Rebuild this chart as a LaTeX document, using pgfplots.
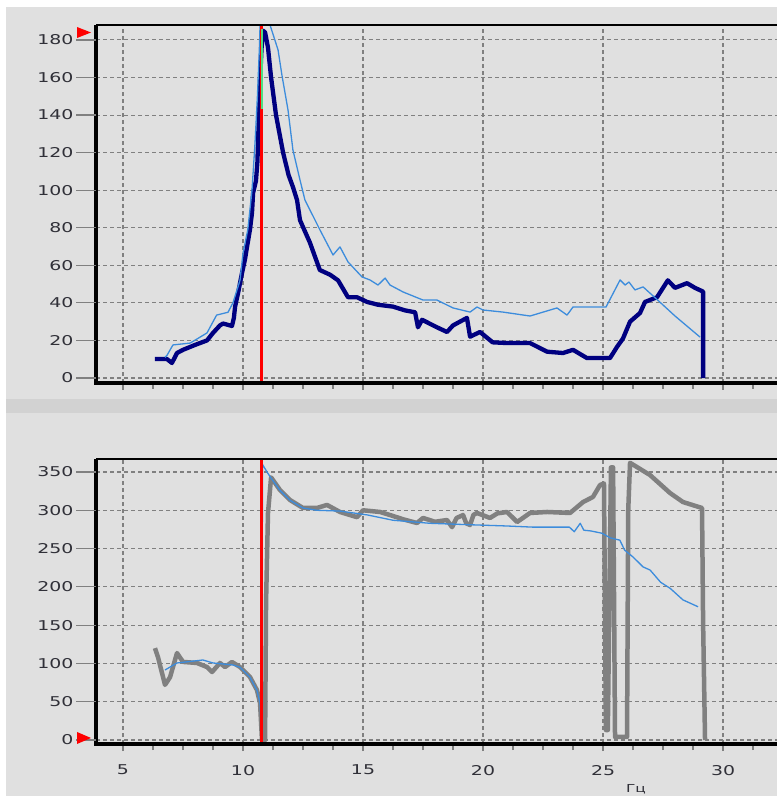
\documentclass[border=0pt]{standalone}
\usepackage{fontspec}
\setmainfont{DejaVu Sans}
\newfontfamily\tickfontfam[FakeStretch=1.4]{DejaVu Sans}
\newcommand\tickfont{\tickfontfam\fontsize{13.5}{16}\selectfont}
\newcommand\unitfont{\tickfontfam\fontsize{11}{13}\selectfont}
\usepackage{pgfplots}
\pgfplotsset{compat=1.18}
\definecolor{bg}{HTML}{E0E0E0}
\definecolor{band}{HTML}{D2D2D2}
\definecolor{gridgrey}{HTML}{808080}
\definecolor{tickgrey}{HTML}{808080}
\definecolor{navyline}{HTML}{000080}
\definecolor{thinblue}{HTML}{3C8CDC}
\definecolor{greyline}{HTML}{808080}
\definecolor{labelcol}{HTML}{303038}
\definecolor{greenmark}{HTML}{50E080}
\definecolor{olivemark}{HTML}{6B8E23}
\pgfplotsset{
  base/.style={
    scale only axis, width=694pt,
    xmin=3.875, xmax=32.79,
    axis line style={draw=none},
    xtick={5,10,...,30},
    minor xtick={6.25,7.5,...,32.5},
    grid=major,
    major grid style={gridgrey, line width=1.1pt, dash pattern=on 4pt off 3pt},
    tick align=outside, tick pos=left,
    major tick length=7pt, minor tick length=6pt,
    x tick style={tickgrey, line width=1.1pt},
    y tick style={draw=none},
    yticklabel style={font=\tickfont, text=labelcol, xshift=-12pt},
    xticklabel style={font=\tickfont, text=labelcol, yshift=-10.5pt},
    /pgf/number format/assume math mode=true,
    after end axis/.append code={
      \draw[black,line width=3.5pt] (rel axis cs:0,1) -- (rel axis cs:0,0) -- (rel axis cs:1,0);
      \draw[black,line width=1.6pt] (rel axis cs:0,1) -- (rel axis cs:1,1);
    },
  }
}
\begin{document}
\begin{tikzpicture}[x=1pt,y=1pt]
\useasboundingbox (0,0) rectangle (777,796);
\fill[bg] (0,0) rectangle (777,796);
\fill[white] (0,789) rectangle (777,796);
\fill[white] (0,0) rectangle (6,796);
\fill[band] (6,383) rectangle (777,397);

% ---------------- top plot ----------------
\begin{axis}[base,
  at={(96pt,413pt)}, anchor=south west, height=358pt,
  ymin=-2.66, ymax=187.96,
  ytick={0,20,...,180},
  xticklabel style={opacity=0},
  after end axis/.append code={
    \foreach \v in {0,20,...,180}{\draw[tickgrey,line width=1.2pt] (axis cs:3.875,\v) -- ++(-20pt,0);}
  },
]
\addplot[navyline, line width=4.3pt, line join=round] coordinates {
(6.33,10.1) (6.83,10.1) (7.04,8) (7.25,13.3) (7.5,15) (8.0,17.6) (8.5,20) (8.75,24)
(9.04,28) (9.17,29) (9.54,27.7) (9.62,32) (9.67,38) (9.79,45) (9.96,56) (10.08,63)
(10.17,70) (10.29,79) (10.375,88) (10.42,98.5) (10.54,105) (10.6,115) (10.65,135)
(10.7,155) (10.77,175) (10.83,185) (10.92,184) (11.04,176) (11.17,160) (11.375,140)
(11.67,120) (11.9,108) (12.08,101.7) (12.25,94.8) (12.375,84) (12.79,72)
(13.2,57.5) (13.625,55) (13.96,52) (14.375,43) (14.75,43) (15.17,40.5) (15.625,39)
(16.25,38) (16.75,36) (17.17,35) (17.29,27) (17.46,31) (18.08,27) (18.5,24.5)
(18.75,28) (19.33,32) (19.46,22) (19.875,24.5) (20.4,19) (21.0,18.6) (21.96,18.6)
(22.67,14) (23.33,13.3) (23.75,15) (24.33,10.6) (25.29,10.6) (25.58,16.5) (25.83,21)
(26.125,30) (26.54,34.6) (26.75,40.5) (27.25,43) (27.7,52) (28.0,48) (28.5,50.5)
(28.83,48) (29.17,46) (29.17,0)
};
\addplot[thinblue, line width=1.3pt, line join=round] coordinates {
(6.75,11) (6.83,12) (7.08,17.6) (7.8,18.6) (8.5,24) (8.9,33.5) (9.375,35) (9.58,40)
(9.875,52) (10.0,66.5) (10.2,79) (10.375,100) (10.5,125) (10.6,150) (10.68,175)
(10.72,192) (11.0,195) (11.125,188) (11.46,174.7) (11.625,161) (11.875,142.7)
(12.08,121.4) (12.375,105.4) (12.58,94.8) (13.2,79) (13.75,65.5) (14.04,69.8)
(14.375,61.8) (14.96,53.8) (15.29,52.2) (15.625,49.5) (15.92,53.2) (16.125,49.5)
(16.67,45.8) (17.5,41.5) (18.08,41.5) (18.75,37.3) (19.46,35.1) (19.75,37.8)
(20.0,36.2) (20.83,35.1) (21.96,33) (23.08,37.3) (23.5,33.5) (23.75,37.8) (25.125,37.8)
(25.71,52.2) (25.92,49.5) (26.08,51.1) (26.33,46.9) (26.67,48.5) (27.25,41.8)
(28.0,33) (29.04,21.8)
};
\addplot[red, line width=3pt] coordinates {(10.79,-5) (10.79,190)};
\addplot[greenmark, line width=2pt] coordinates {(10.78,143) (10.78,186)};
\end{axis}

% ---------------- bottom plot ----------------
\begin{axis}[base,
  at={(96pt,52pt)}, anchor=south west, height=285pt,
  ymin=-5.22, ymax=367.0,
  ytick={0,50,...,350},
  after end axis/.append code={
    \foreach \v in {0,50,...,350}{\draw[tickgrey,line width=1.2pt] (axis cs:3.875,\v) -- ++(-20pt,0);}
  },
]
\addplot[greyline, line width=4.5pt, line join=round] coordinates {
(6.33,120) (6.46,108) (6.75,72) (6.96,82) (7.25,113.6) (7.5,102) (8.08,100.6)
(8.5,95.3) (8.71,88.8) (9.04,100.6) (9.25,95.3) (9.54,101.9) (9.875,95.3) (10.29,82.3)
(10.58,65.3) (10.71,48.3) (10.79,0) (10.92,0) (10.96,179) (11.04,296) (11.17,343)
(11.54,326.5) (11.96,313.4) (12.5,303) (13.08,303) (13.5,307) (14.04,297.8) (14.75,291)
(15.0,300) (15.71,297.8) (16.125,293.8) (16.7,288) (17.25,283.4) (17.5,290) (18.0,285)
(18.5,287.3) (18.71,278) (18.9,290) (19.17,293.8) (19.3,283) (19.46,280.8) (19.6,294)
(19.75,296.5) (20.29,290) (20.6,296) (21.0,297.8) (21.42,284.7) (21.96,296.5)
(22.67,297.8) (23.625,296.5) (24.17,310.8) (24.58,317.4) (24.875,333) (25.04,335)
(25.12,13) (25.2,13) (25.33,356) (25.42,356) (25.5,4) (26.0,4) (26.05,300)
(26.125,362) (26.96,346) (27.79,322.6) (28.33,310.8) (29.125,303) (29.17,152.8)
(29.25,0)
};
\addplot[thinblue, line width=1.3pt, line join=round] coordinates {
(6.75,91.4) (7.25,100.6) (8.33,104.5) (8.75,100.6) (9.58,98) (9.875,95) (10.29,82)
(10.58,65) (10.71,48) (10.79,0) (10.81,360) (11.0,350) (11.17,342) (11.54,326)
(11.96,313) (12.5,303) (13.08,300) (14.04,299) (15.17,294) (16.25,287) (17.8,283)
(19.58,281) (21.0,279.5) (22.08,278) (23.6,278) (23.8,272) (24.05,283) (24.2,274)
(24.5,273) (24.96,270) (25.3,264) (25.7,261) (25.9,248) (26.25,239) (26.67,226)
(26.96,222) (27.4,206) (27.8,198) (28.33,183) (28.96,174)
};
\addplot[olivemark, line width=1.5pt] coordinates {(10.74,48) (10.74,193)};
\addplot[red, line width=3pt] coordinates {(10.79,-8) (10.79,370)};
\end{axis}

% red flags
\fill[red] (77,769) -- (77,758) -- (91,763.5) -- cycle;
\fill[red] (77,64) -- (77,52) -- (91,58) -- cycle;
% unit label
\node[anchor=north, inner sep=0pt, text=labelcol, font=\unitfont] at (636,12) {Гц};
\end{tikzpicture}
\end{document}
